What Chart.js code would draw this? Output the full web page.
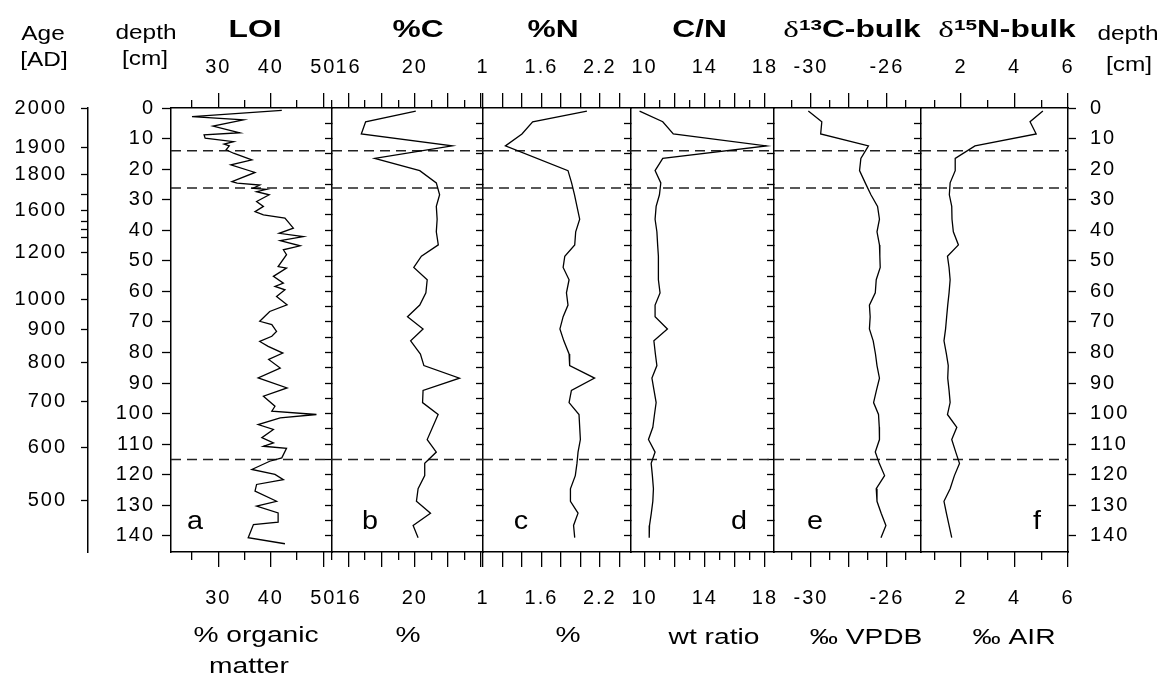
<!DOCTYPE html>
<html>
<head>
<meta charset="utf-8">
<script src="https://cdn.jsdelivr.net/npm/chart.js@4.4.1/dist/chart.umd.min.js"></script>
<style>
  html, body { margin: 0; padding: 0; background: #fff; }
  #fig { position: relative; width: 1168px; height: 677px; overflow: hidden; }
  #fig canvas { position: absolute; top: 0; }
</style>
</head>
<body>
<div id="fig"></div>
<script>
// LOI profile, sampled densely (depth in cm, % organic matter)
const loiDepth = [0.8, 2.8, 3.9, 5.9, 8.1, 8.8, 9.9, 11.0, 11.8, 12.4, 13.7, 14.8, 17.0, 18.6, 21.1,
  24.1, 24.6, 25.2, 26.3, 26.6, 27.4, 28.4, 30.6, 32.2, 33.9, 35.0, 36.0, 39.3, 41.0, 42.1,
  43.4, 45.1, 46.4, 48.0, 51.9, 52.4, 55.1, 57.3, 58.4, 59.5, 61.7, 64.4, 66.6, 69.8, 70.9,
  73.1, 74.7, 76.4, 78.0, 80.2, 82.3, 85.1, 88.3, 91.6, 94.3, 97.6, 99.2, 100.3, 101.4, 103.6,
  105.2, 107.9, 109.6, 110.7, 111.4, 114.5, 115.6, 118.3, 119.9, 121.6, 123.2, 125.4, 128.7, 130.3, 132.5,
  135.5, 136.3, 140.6, 142.6];
const loi = [42.1, 25.0, 34.8, 29.0, 34.1, 27.3, 27.5, 32.9, 31.1, 32.1, 31.5, 32.9, 36.4, 32.4, 37.0,
  32.6, 33.6, 37.9, 36.6, 39.2, 37.3, 39.7, 37.3, 38.6, 37.0, 38.6, 42.7, 44.3, 41.6, 46.2,
  41.8, 45.6, 42.4, 43.0, 41.4, 43.0, 40.5, 42.4, 40.8, 42.7, 41.1, 43.1, 39.8, 37.9, 40.2,
  41.1, 40.2, 37.9, 39.5, 42.3, 39.6, 41.8, 37.6, 43.1, 38.6, 40.8, 40.2, 48.7, 41.8, 37.6,
  40.5, 38.3, 40.5, 38.6, 43.0, 42.1, 39.8, 36.4, 40.8, 42.4, 37.3, 37.0, 41.1, 37.3, 41.4,
  41.4, 36.7, 35.7, 42.7];

// bulk samples (cm) shared by %C, %N, C/N and the isotopes
const sampleDepth = [1, 4.5, 8.5, 12.4, 16.5, 20.5, 24.5, 28.4, 32.2, 36.4, 40.5, 44.8, 48.5, 52.2, 56.2,
  60.5, 64.5, 68.3, 72.3, 76.2, 80.5, 84.3, 88.4, 92.4, 96.4, 100.3, 104.5, 108.5, 112.6, 116.3,
  120.3, 124.6, 128.7, 132.6, 136.6, 140.6];
const carbon = [20.06, 17.03, 16.77, 22.26, 17.58, 20.3, 21.3, 21.5, 21.3, 21.35, 21.3, 21.42, 20.4, 19.94, 20.75,
  20.67, 20.3, 19.56, 20.5, 19.75, 20.34, 20.55, 22.7, 20.5, 20.47, 21.41, null, 20.75, 21.3, 20.6,
  20.6, 20.2, 20.1, 20.95, 19.9, 20.2];
const nitrogen = [2.067, 1.51, 1.40, 1.23, null, 1.873, 1.91, 1.94, 1.965, 1.993, 1.952, 1.942, 1.84, 1.823, 1.884,
  1.857, 1.873, 1.823, 1.79, 1.83, 1.884, 1.89, 2.146, 1.908, 1.884, 1.986, null, 2.0, 1.976, 1.965,
  1.948, 1.898, 1.898, 1.976, 1.93, 1.942];
const cnRatio = [9.67, 11.21, 11.91, 18.1, 11.21, 10.7, 11.08, 10.99, 10.77, 10.7, 10.82, 10.87, 10.92, 10.92, 10.92,
  11.03, 10.7, 10.7, 11.52, 10.62, 10.72, 10.82, 10.49, 10.63, 10.77, 10.66, 10.55, 10.26, 10.7, 10.44,
  10.52, 10.59, 10.55, 10.45, 10.33, 10.31];
const d13C = [-30.14, -29.43, -29.49, -26.97, -27.37, -27.44, -27.14, -26.84, -26.49, -26.39, -26.52, -26.39, -26.37, -26.35, -26.56,
  -26.61, -26.92, -26.88, -26.92, -26.72, -26.6, -26.52, -26.39, -26.55, -26.7, -26.44, -26.4, -26.39, -26.61, -26.4,
  -26.12, -26.56, -26.52, -26.3, -26.05, -26.31];
const d15N = [5.06, 4.58, 4.81, 2.52, 1.78, 1.78, 1.59, 1.56, 1.65, 1.66, 1.71, 1.90, 1.49, 1.55, 1.59,
  1.55, 1.5, 1.46, 1.42, 1.36, 1.45, 1.52, 1.5, 1.55, 1.59, 1.49, 1.84, 1.65, 1.8, 1.94,
  1.75, 1.59, 1.36, 1.45, 1.55, 1.65];

// zone boundaries (cm)
const zoneDepth = [14, 26.2, 115];

// age-depth scale
const ageYears = [2000, 1900, 1800, 1700, 1600, 1500, 1400, 1300, 1200, 1100, 1000, 900, 800, 700, 600, 500];
const ageDepth = [0, 12.85, 21.6, 28.4, 33.5, 37, 39.8, 42.5, 47.3, 54.4, 62.8, 72.4, 83.3, 96.1, 111.2, 128.4];
const ageShown = [2000, 1900, 1800, 1600, 1200, 1000, 900, 800, 700, 600, 500];

// tick labels
const depthTicks = [0, 10, 20, 30, 40, 50, 60, 70, 80, 90, 100, 110, 120, 130, 140];
const loiTicks = [30, 40, 50];
const carbonTicks = [16, 20];
const nitrogenTicks = [1, 1.6, 2.2];
const cnTicks = [10, 14, 18];
const d13cTicks = [-30, -26];
const d15nTicks = [2, 4, 6];

const FONT = '"Liberation Sans", Arial, Helvetica, sans-serif';
const SERIF = '"Liberation Serif", "DejaVu Serif", serif';
const tickFont = { family: FONT, size: 20 };
const frame = { display: true, color: '#000', width: 1.5 };
const DEPTH_MAX = 145.3;
const TOP = 108, HEIGHT = 677, WIDTH = 1168, SIDE = 40, AGE_W = 88;
const MAJOR_LEN = 15, MINOR_LEN = 8;
const edges = [171, 332, 483, 631, 774, 921, 1068];

// text styles: font, horizontal stretch, baseline below the given centre
const styles = {
  head: { font: '20px ' + FONT, sx: 1.22, base: 6.9 },
  title: { font: 'bold 23px ' + FONT, sx: 1.38, base: 8 },
  unit: { font: '22px ' + FONT, sx: 1.28, base: 7.6 },
  letter: { font: '25px ' + FONT, sx: 1.15, base: 8.7 }
};
const delta = '24px ' + SERIF;
const sup = 'bold 15px ' + FONT;

function label(kind, content, x, y) {
  const st = styles[kind];
  const runs = Array.isArray(content)
    ? content.map(([text, font, dy]) => ({ text, font: font || st.font, dy: dy || 0 }))
    : [{ text: content, font: st.font, dy: 0 }];
  return { x, y: y + st.base, sx: st.sx, runs };
}

const panels = [
  { depth: loiDepth, values: loi, min: 21, max: 51.66, major: 10, minor: 5, shown: loiTicks,
    texts: [label('head', 'Age', 43, 33), label('head', '[AD]', 44, 59),
            label('head', 'depth', 146, 32), label('head', '[cm]', 145, 58),
            label('title', 'LOI', 255, 28.5),
            label('unit', '% organic', 256, 634), label('unit', 'matter', 249, 665),
            label('letter', 'a', 195, 520)] },
  { depth: sampleDepth, values: carbon, min: 15, max: 24.12, major: 2, minor: 1, shown: carbonTicks,
    texts: [label('title', '%C', 418, 28.5), label('unit', '%', 408, 634), label('letter', 'b', 370, 520)] },
  { depth: sampleDepth, values: nitrogen, min: 1, max: 2.52, major: 0.2, minor: 0, shown: nitrogenTicks,
    texts: [label('title', '%N', 553, 28.5), label('unit', '%', 568, 634), label('letter', 'c', 521, 520)] },
  { depth: sampleDepth, values: cnRatio, min: 9.1, max: 18.6, major: 2, minor: 1, shown: cnTicks,
    texts: [label('title', 'C/N', 699.5, 28.5), label('unit', 'wt ratio', 714, 636), label('letter', 'd', 739, 520)] },
  { depth: sampleDepth, values: d13C, min: -31.95, max: -24.2, major: 2, minor: 1, shown: d13cTicks,
    texts: [label('title', [['δ', delta], ['13', sup, -7], ['C-bulk']], 852, 28.5),
            label('unit', '‰ VPDB', 866, 636), label('letter', 'e', 815, 520)] },
  { depth: sampleDepth, values: d15N, min: 0.5, max: 6, major: 2, minor: 1, shown: d15nTicks,
    texts: [label('title', [['δ', delta], ['15', sup, -7], ['N-bulk']], 1007, 28.5),
            label('unit', '‰ AIR', 1014, 636), label('letter', 'f', 1037, 520),
            label('head', 'depth', 1128, 33), label('head', '[cm]', 1129, 64)] }
];

function stepTicks(min, max, step) {
  const out = [];
  for (let k = Math.ceil(min / step - 1e-9); k * step <= max + 1e-9; k++) out.push(+(k * step).toFixed(4));
  return out;
}

// wider glyph spacing for the axis numbers
const spacing = {
  id: 'spacing',
  beforeDraw(chart) { chart.ctx.letterSpacing = '2px'; }
};

// tick marks of the top/bottom axes, then the headings, units and panel letters
function decor(p, marks, offset) {
  return {
    id: 'decor',
    afterDraw(chart) {
      const ctx = chart.ctx;
      const area = chart.chartArea;
      const span = area.right - area.left;
      ctx.save();
      ctx.strokeStyle = '#000';
      ctx.lineWidth = 1.3;
      marks.forEach(([v, len]) => {
        const x = Math.round(area.left + (v - p.min) / (p.max - p.min) * span - 0.65) + 0.65;
        ctx.beginPath();
        ctx.moveTo(x, area.top);
        ctx.lineTo(x, area.top - len);
        ctx.moveTo(x, area.bottom);
        ctx.lineTo(x, area.bottom + len);
        ctx.stroke();
      });
      ctx.letterSpacing = '0px';
      ctx.fillStyle = '#000';
      ctx.textBaseline = 'alphabetic';
      ctx.textAlign = 'left';
      p.texts.forEach(item => {
        ctx.save();
        ctx.translate(item.x - offset, item.y);
        ctx.scale(item.sx, 1);
        let w = 0;
        item.runs.forEach(r => { ctx.font = r.font; w += ctx.measureText(r.text).width; });
        let x = -w / 2;
        item.runs.forEach(r => {
          ctx.font = r.font;
          ctx.fillText(r.text, x, r.dy);
          x += ctx.measureText(r.text).width;
        });
        ctx.restore();
      });
      ctx.restore();
    }
  };
}

function xAxis(p, position, ticks, size) {
  return {
    type: 'linear', axis: 'x', position, weight: 1, bounds: 'data',
    min: p.min, max: p.max,
    afterBuildTicks: s => { s.ticks = ticks.map(value => ({ value })); },
    afterFit: s => { s.height = size; },
    // marks come from the decor plugin; the length still spaces the labels
    grid: { drawOnChartArea: false, tickLength: MAJOR_LEN, tickWidth: 0 },
    border: frame,
    ticks: {
      autoSkip: false, maxRotation: 0, font: tickFont, color: '#000',
      padding: position === 'top' ? 14 : 19,
      callback: v => p.shown.includes(v) ? String(v) : ''
    }
  };
}

function depthAxis(position, ticks, extra) {
  return Object.assign({
    type: 'linear', axis: 'y', position, reverse: true, bounds: 'data',
    min: 0, max: DEPTH_MAX,
    afterBuildTicks: s => { s.ticks = ticks.map(value => ({ value })); },
    border: frame
  }, extra);
}

const fig = document.getElementById('fig');

panels.forEach((p, i) => {
  const first = i === 0, last = i === panels.length - 1;
  const left = first ? 0 : edges[i] - SIDE;
  const right = last ? WIDTH : edges[i + 1] + SIDE;
  const canvas = document.createElement('canvas');
  canvas.width = right - left;
  canvas.height = HEIGHT;
  canvas.style.left = left + 'px';
  fig.appendChild(canvas);

  const majors = stepTicks(p.min, p.max, p.major);
  const minors = p.minor ? stepTicks(p.min, p.max, p.minor).filter(v => !majors.includes(v)) : [];
  const marks = majors.map(v => [v, MAJOR_LEN]).concat(minors.map(v => [v, MINOR_LEN]));

  const scales = {
    x: xAxis(p, 'top', majors, TOP),
    xb: xAxis(p, 'bottom', majors, HEIGHT - 552)
  };

  if (first) {
    scales.y = depthAxis('left', depthTicks, {
      weight: 1,
      afterFit: s => { s.width = edges[0] - AGE_W; },
      grid: { drawOnChartArea: false, tickLength: 9, tickWidth: 1.3, tickColor: '#000' },
      ticks: { autoSkip: false, font: tickFont, color: '#000', padding: 7, callback: v => String(v) }
    });
    scales.age = depthAxis('left', ageDepth, {
      weight: 2,
      afterFit: s => { s.width = AGE_W; },
      grid: { drawOnChartArea: false, tickLength: 7, tickWidth: 1.3, tickColor: '#000' },
      ticks: {
        autoSkip: false, font: tickFont, color: '#000', padding: 14,
        callback: (v, k) => ageShown.includes(ageYears[k]) ? String(ageYears[k]) : ''
      }
    });
  } else {
    scales.y = depthAxis('left', depthTicks, { display: false });
  }

  if (last) {
    scales.yr = depthAxis('right', depthTicks, {
      afterFit: s => { s.width = WIDTH - edges[6]; },
      grid: { drawOnChartArea: false, tickLength: 8, tickWidth: 1.3, tickColor: '#000' },
      ticks: { autoSkip: false, font: tickFont, color: '#000', padding: 14, callback: v => String(v) }
    });
  } else {
    // inward ticks on the panel divider, every 5 cm
    scales.yr = depthAxis('right', stepTicks(5, 140, 5), {
      afterFit: s => { s.width = 0; },
      grid: { drawOnChartArea: false, tickLength: -7, tickWidth: 1.3, tickColor: '#000' },
      ticks: { display: false }
    });
  }

  const datasets = [{
    data: p.depth.map((d, k) => ({ x: p.values[k], y: d })),
    borderColor: '#000', borderWidth: 1.3, pointRadius: 0, tension: 0, spanGaps: true,
    xAxisID: 'x', yAxisID: 'y'
  }];
  zoneDepth.forEach(d => datasets.push({
    data: [{ x: p.min, y: d }, { x: p.max, y: d }],
    borderColor: '#222', borderWidth: 1.5, borderDash: [10, 6], pointRadius: 0,
    xAxisID: 'x', yAxisID: 'y'
  }));

  new Chart(canvas, {
    type: 'line',
    data: { datasets },
    options: {
      indexAxis: 'y',
      responsive: false,
      animation: false,
      events: [],
      layout: { padding: { left: first ? 0 : SIDE, right: last ? 0 : SIDE, top: 0, bottom: 0 } },
      plugins: { legend: { display: false }, tooltip: { enabled: false } },
      scales
    },
    plugins: [spacing, decor(p, marks, left)]
  });
});
</script>
</body>
</html>
